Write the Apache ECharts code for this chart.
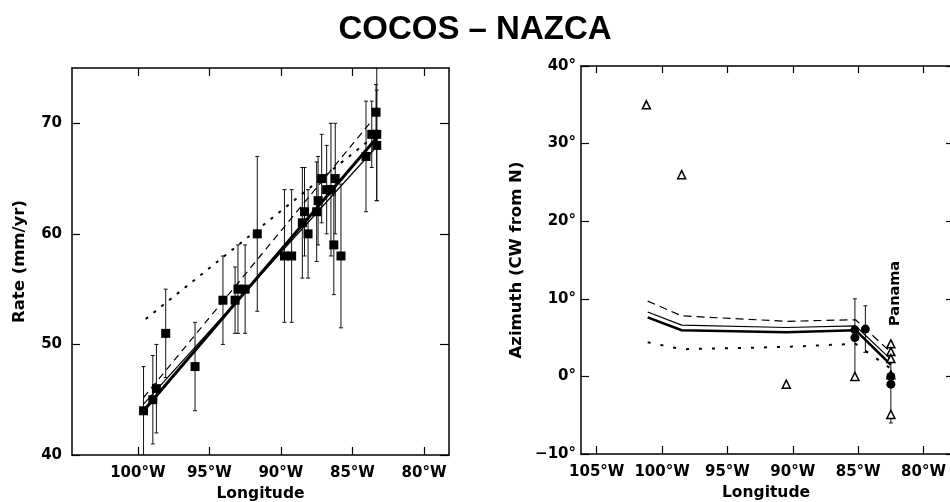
<!DOCTYPE html>
<html>
<head>
<meta charset="utf-8">
<script src="https://cdn.jsdelivr.net/npm/echarts@6/dist/echarts.min.js"></script>
<style>
  html, body { margin: 0; padding: 0; background: #fff; }
  #chart { width: 950px; height: 502px; }
</style>
</head>
<body>
<div id="chart"></div>
<script>
// Cocos–Nazca relative motion: spreading rate (left) and azimuth (right) against longitude.
// Longitudes are kept as degrees West and plotted as negative (east-positive) values.

const titleText = 'COCOS – NAZCA';
const lonTicksRate = [100, 95, 90, 85, 80];
const lonTicksAzimuth = [105, 100, 95, 90, 85, 80];
const rateTicks = [40, 50, 60, 70];

// Observed spreading rates: longitude (°W), rate (mm/yr), one-sided error (mm/yr)
const rateLonW  = [99.6, 98.95, 98.7, 98.05, 96.0, 94.05, 93.2, 93.0, 92.5, 91.65, 89.75, 89.25, 88.5, 88.35, 88.1, 87.5, 87.4, 87.15, 86.8, 86.5, 86.3, 86.2, 85.8, 84.05, 83.65, 83.35, 83.3, 83.3];
const rateValue = [44, 45, 46, 51, 48, 54, 54, 55, 55, 60, 58, 58, 61, 62, 60, 62, 63, 65, 64, 64, 59, 65, 58, 67, 69, 71, 69, 68];
const rateError = [4, 4, 4, 4, 4, 4, 3, 4, 4, 7, 6, 6, 5, 4, 4, 4.5, 4, 4, 4, 6, 4.5, 5, 6.5, 5, 3, 2.5, 6, 5];

// Model rate predictions (°W, mm/yr)
const rateModelBest   = [[99.6, 44.0], [83.3, 68.7]];
const rateModelThin   = [[99.6, 44.6], [83.3, 67.9]];
const rateModelDashed = [[99.6, 45.2], [83.6, 70.3]];
const rateModelDotted = [[99.45, 52.3], [83.4, 68.9]];

// Observed azimuths: transform faults (open triangles), slip vectors (filled circles)
const azTriLonW  = [101.2, 98.5, 90.5, 85.25, 82.5, 82.5, 82.5, 82.5, 82.5];
const azTriValue = [35, 26, -1, 0, 4.2, 3.2, 2.3, 0.2, -4.9];
const azDotLonW  = [85.25, 85.25, 84.45, 82.5, 82.5];
const azDotValue = [6, 5, 6.1, 0, -1];
const azDotError = [0, 5, 3, 0, 5];

// Model azimuth predictions (°W, degrees CW from N)
const azModelBest   = [[101.1, 7.6], [98.5, 5.95], [90.5, 5.7], [85.2, 5.95], [82.5, 1.5]];
const azModelThin   = [[101.1, 8.3], [98.5, 6.6], [90.5, 6.3], [85.2, 6.5], [82.5, 2.2]];
const azModelDashed = [[101.1, 9.7], [98.5, 7.8], [90.5, 7.1], [85.2, 7.3], [82.5, 3.1]];
const azModelDotted = [[101.1, 4.4], [98.5, 3.5], [90.5, 3.8], [85.2, 4.2], [82.5, 1.0]];

const panamaLabel = 'Panama';
const panamaAnchor = [82.15, 10.7];

// ---------------------------------------------------------------
const FONT = 'DejaVu Sans';
const toX = (lonW) => -lonW;
const pts = (arr) => arr.map(([lon, v]) => [toX(lon), v]);

const lonFmt = (v) => Math.round(Math.abs(v)) + '°W';
const degFmt = (v) => (v < 0 ? '−' + Math.abs(v) : String(v)) + '°';

const labelStyle = { color: '#000', fontFamily: FONT, fontWeight: 'bold', fontSize: 15 };
const nameStyle = { color: '#000', fontFamily: FONT, fontWeight: 'bold', fontSize: 16.5 };
const frameLine = { show: true, onZero: false, lineStyle: { color: '#000', width: 1.5 } };

function errorBars(xAxisIndex, yAxisIndex, data, cap) {
  return {
    type: 'custom', xAxisIndex, yAxisIndex, data, clip: true, z: 3, silent: true,
    encode: { x: 0, y: 1 },
    renderItem(params, api) {
      const x = api.value(0), y = api.value(1), e = api.value(2);
      const hi = api.coord([x, y + e]);
      const lo = api.coord([x, y - e]);
      const st = { stroke: '#111', lineWidth: 1 };
      return {
        type: 'group',
        children: [
          { type: 'line', shape: { x1: hi[0], y1: hi[1], x2: lo[0], y2: lo[1] }, style: st },
          { type: 'line', shape: { x1: hi[0] - cap, y1: hi[1], x2: hi[0] + cap, y2: hi[1] }, style: st },
          { type: 'line', shape: { x1: lo[0] - cap, y1: lo[1], x2: lo[0] + cap, y2: lo[1] }, style: st }
        ]
      };
    }
  };
}

function modelLine(xAxisIndex, yAxisIndex, data, width, type) {
  return {
    type: 'line', xAxisIndex, yAxisIndex, data: pts(data),
    showSymbol: false, silent: true, z: 4,
    lineStyle: { color: '#000', width, type: type || 'solid', cap: 'butt' }
  };
}

const rateObs = rateLonW.map((lon, i) => [toX(lon), rateValue[i], rateError[i]]);
const triObs = azTriLonW.map((lon, i) => [toX(lon), azTriValue[i]]);
const dotObs = azDotLonW.map((lon, i) => [toX(lon), azDotValue[i], azDotError[i]]);
const dotBars = dotObs.filter(d => d[2] > 0);

const chart = echarts.init(document.getElementById('chart'), null, { renderer: 'canvas' });

chart.setOption({
  animation: false,
  backgroundColor: '#fff',
  title: {
    text: titleText, left: 'center', top: 8,
    textStyle: { fontFamily: 'Liberation Sans', fontWeight: 'bold', fontSize: 33, color: '#000' }
  },
  grid: [
    { left: 72, top: 68, width: 377, height: 387, containLabel: false, outerBoundsMode: 'none' },
    { left: 581, top: 66, width: 370, height: 388, containLabel: false, outerBoundsMode: 'none' }
  ],
  xAxis: [
    {
      gridIndex: 0, type: 'value', position: 'bottom', min: -104.6, max: -78.25,
      axisLine: frameLine, splitLine: { show: false },
      axisTick: { inside: true, length: 8, lineStyle: { color: '#000', width: 1.2 }, customValues: lonTicksRate.map(toX) },
      axisLabel: Object.assign({ margin: 11, formatter: lonFmt, customValues: lonTicksRate.map(toX) }, labelStyle),
      name: 'Longitude', nameLocation: 'middle', nameGap: 29,
      nameTextStyle: Object.assign({}, nameStyle, { fontSize: 15.5 })
    },
    {
      gridIndex: 0, type: 'value', position: 'top', min: -104.6, max: -78.25,
      axisLine: frameLine, splitLine: { show: false },
      axisTick: { inside: true, length: 8, lineStyle: { color: '#000', width: 1.2 }, customValues: lonTicksRate.map(toX) },
      axisLabel: { show: false }
    },
    {
      gridIndex: 1, type: 'value', position: 'bottom', min: -106.2, max: -77.9,
      axisLine: frameLine, splitLine: { show: false },
      axisTick: { inside: true, length: 8, lineStyle: { color: '#000', width: 1.2 }, customValues: lonTicksAzimuth.map(toX) },
      axisLabel: Object.assign({ margin: 11, formatter: lonFmt, customValues: lonTicksAzimuth.map(toX) }, labelStyle),
      name: 'Longitude', nameLocation: 'middle', nameGap: 30,
      nameTextStyle: Object.assign({}, nameStyle, { fontSize: 15.5 })
    },
    {
      gridIndex: 1, type: 'value', position: 'top', min: -106.2, max: -77.9,
      axisLine: frameLine, splitLine: { show: false },
      axisTick: { inside: true, length: 7, lineStyle: { color: '#000', width: 1.2 }, customValues: lonTicksAzimuth.map(toX) },
      axisLabel: { show: false }
    }
  ],
  yAxis: [
    {
      gridIndex: 0, type: 'value', position: 'left', min: 40, max: 75,
      axisLine: frameLine, splitLine: { show: false },
      axisTick: { inside: true, length: 8, lineStyle: { color: '#000', width: 1.2 }, customValues: rateTicks },
      axisLabel: Object.assign({ margin: 10, customValues: rateTicks }, labelStyle),
      name: 'Rate (mm/yr)', nameLocation: 'middle', nameGap: 44, nameRotate: 90,
      nameTextStyle: nameStyle
    },
    {
      gridIndex: 0, type: 'value', position: 'right', min: 40, max: 75,
      axisLine: frameLine, splitLine: { show: false },
      axisTick: { inside: true, length: 9, lineStyle: { color: '#000', width: 1.2 }, customValues: rateTicks },
      axisLabel: { show: false }
    },
    {
      gridIndex: 1, type: 'value', position: 'left', min: -10, max: 40, interval: 10,
      axisLine: frameLine, splitLine: { show: false },
      axisTick: { inside: true, length: 8, lineStyle: { color: '#000', width: 1.2 } },
      axisLabel: Object.assign({ margin: 5, formatter: degFmt }, labelStyle),
      name: 'Azimuth (CW from N)', nameLocation: 'middle', nameGap: 56, nameRotate: 90,
      nameTextStyle: nameStyle
    },
    {
      gridIndex: 1, type: 'value', position: 'right', min: -10, max: 40, interval: 10,
      axisLine: frameLine, splitLine: { show: false },
      axisTick: { inside: true, length: 5, lineStyle: { color: '#000', width: 1.2 } },
      axisLabel: { show: false }
    }
  ],
  series: [
    // Rate panel
    errorBars(0, 0, rateObs, 2),
    modelLine(0, 0, rateModelDotted, 2, [3, 7]),
    modelLine(0, 0, rateModelDashed, 1.2, [7, 5]),
    modelLine(0, 0, rateModelThin, 1.2),
    modelLine(0, 0, rateModelBest, 3),
    {
      type: 'scatter', xAxisIndex: 0, yAxisIndex: 0, z: 5, silent: true,
      symbol: 'rect', symbolSize: 9,
      itemStyle: { color: '#000', opacity: 1 },
      data: rateObs.map(d => [d[0], d[1]])
    },
    // Azimuth panel
    errorBars(2, 2, dotBars, 2),
    modelLine(2, 2, azModelDotted, 2, [3, 10]),
    modelLine(2, 2, azModelDashed, 1.2, [8, 5]),
    modelLine(2, 2, azModelThin, 1.2),
    modelLine(2, 2, azModelBest, 2.5),
    {
      type: 'scatter', xAxisIndex: 2, yAxisIndex: 2, z: 5, silent: true,
      symbol: 'triangle', symbolSize: 8,
      itemStyle: { color: '#fff', borderColor: '#000', borderWidth: 1.5, opacity: 1 },
      data: triObs
    },
    {
      type: 'scatter', xAxisIndex: 2, yAxisIndex: 2, z: 6, silent: true,
      symbol: 'circle', symbolSize: 9,
      itemStyle: { color: '#000', opacity: 1 },
      data: dotObs.map(d => [d[0], d[1]])
    },
    {
      type: 'scatter', xAxisIndex: 2, yAxisIndex: 2, z: 6, silent: true,
      symbolSize: 0,
      itemStyle: { color: '#000', opacity: 1 },
      data: [[toX(panamaAnchor[0]), panamaAnchor[1]]],
      label: {
        show: true, formatter: panamaLabel, position: 'inside', rotate: 90, opacity: 1,
        color: '#000', fontFamily: FONT, fontWeight: 'bold', fontSize: 14.5
      }
    }
  ]
});
</script>
</body>
</html>
